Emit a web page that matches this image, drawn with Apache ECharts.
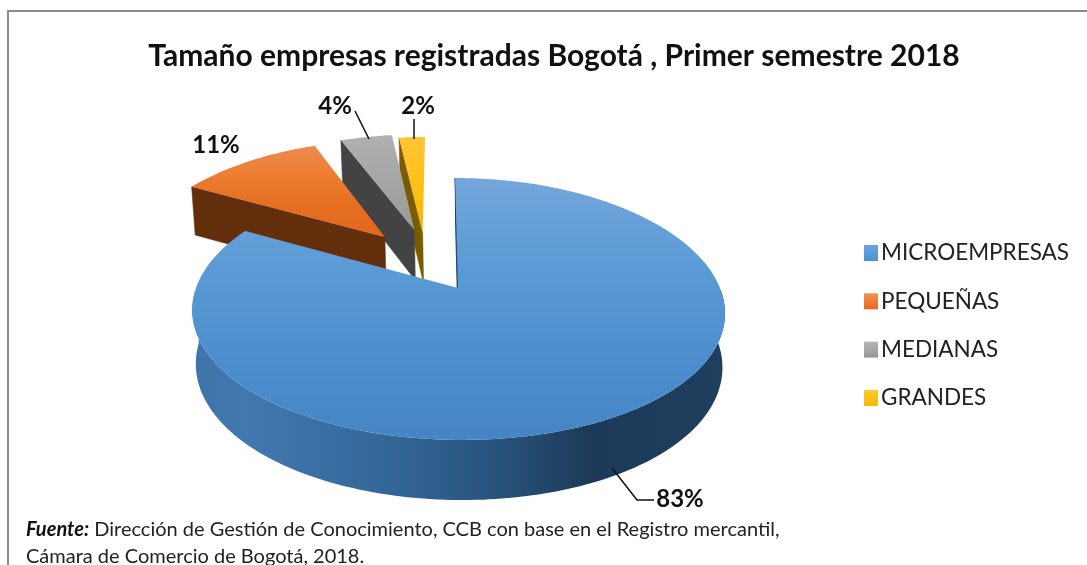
<!DOCTYPE html>
<html>
<head>
<meta charset="utf-8">
<style>
  html, body { margin: 0; padding: 0; background: #fff; }
  #main { width: 1087px; height: 565px; }
</style>
<script src="https://cdn.jsdelivr.net/npm/echarts@6/dist/echarts.min.js"></script>
</head>
<body>
<div id="main"></div>
<script>
var categories = ["MICROEMPRESAS", "PEQUEÑAS", "MEDIANAS", "GRANDES"];
var shares = [83, 11, 4, 2];
var titleText = "Tamaño empresas registradas Bogotá , Primer semestre 2018";
var sourceLead = "Fuente:";
var sourceLine1 = " Dirección de Gestión de Conocimiento, CCB con base en el Registro mercantil,";
var sourceLine2 = "Cámara de Comercio de Bogotá, 2018.";

// how far each slice is pulled out of the pie, in disc units (x, back)
var pull = [[0, 0], [-0.295, 0.427], [-0.175, 0.49], [-0.14, 0.46]];
// label position, px
var labelAt = [[680, 499], [216, 145], [335, 106], [418, 106]];

var FONT = "Lato, 'Open Sans', sans-serif";

// fake 3d: a disc seen in perspective, k makes the back part smaller
var k = 0.16;
var kx = 0.18;
var topPlane = { cx: 461.5, cy: 288, bx: 262, by: 127.6 };
var lowPlane = { cx: 462, cy: 341, bx: 259, by: 133.6 };

function project(plane, X, Z) {
  var dx = 1 + kx * Z;
  var d = 1 + k * Z;
  return [plane.cx + (plane.bx * X - 4 * Z - 3.5) / dx, plane.cy - plane.by * Z / d];
}

var total = shares.reduce(function (a, b) { return a + b; }, 0);

function sliceRange(i) {
  var before = 0;
  for (var j = 0; j < i; j++) before += shares[j];
  return [before / total * Math.PI * 2, (before + shares[i]) / total * Math.PI * 2];
}

function arcAngles(a0, a1) {
  var out = [];
  var steps = Math.max(2, Math.ceil((a1 - a0) / 0.02));
  for (var s = 0; s <= steps; s++) out.push(a0 + (a1 - a0) * s / steps);
  return out;
}

function onArc(plane, i, a) {
  return project(plane, Math.sin(a) + pull[i][0], Math.cos(a) + pull[i][1]);
}

function vgrad(stops) {
  return new echarts.graphic.LinearGradient(0, 0, 0, 1, stops.map(function (c, n) {
    return { offset: n / (stops.length - 1), color: c };
  }));
}
function hgrad(stops) {
  return new echarts.graphic.LinearGradient(0, 0, 1, 0, stops.map(function (s) {
    return { offset: s[0], color: s[1] };
  }));
}

var topFill = [
  vgrad(["#74a6dc", "#5b9bd5", "#4d8fcf", "#4585c4"]),
  vgrad(["#ec8a50", "#ed7d31", "#e56d1f", "#e2691c"]),
  vgrad(["#b0b0b0", "#a5a5a5", "#999999"]),
  vgrad(["#ffc534", "#fdc01a", "#f2b800"])
];
var wallFill = [
  hgrad([[0, "#3f74aa"], [0.1, "#4278b0"], [0.35, "#34689a"], [0.55, "#2a5580"], [0.75, "#1c3a58"], [1, "#1f3f5f"]]),
  "#622e0c",
  "#434343",
  "#7a5c00"
];
var cutFill = ["#1d4668", "#622e0c", "#434343", "#7a5c00"];
var legendFill = [
  vgrad(["#6ba5e0", "#4d8fd0"]),
  vgrad(["#f39256", "#e8691c"]),
  vgrad(["#b5b5b5", "#979797"]),
  vgrad(["#ffc933", "#efb900"])
];

function poly(points, fill, stroke, width) {
  return {
    type: "polygon",
    shape: { points: points },
    style: { fill: fill, stroke: stroke || null, lineWidth: width || 0 }
  };
}

function renderSlice(i) {
  return function () {
    var r = sliceRange(i);
    var angles = arcAngles(r[0], r[1]);
    var topArc = angles.map(function (a) { return onArc(topPlane, i, a); });
    var apexTop = project(topPlane, pull[i][0], pull[i][1]);
    var apexLow = project(lowPlane, pull[i][0], pull[i][1]);
    var kids = [];
    // only the side where the slice starts can be seen from the camera
    kids.push(poly([apexTop, topArc[0], onArc(lowPlane, i, r[0]), apexLow], cutFill[i], cutFill[i], i === 0 ? 1 : 0.5));
    // rim, front half only
    var front = angles.filter(function (a) { return Math.cos(a) + pull[i][1] < 0; });
    if (front.length > 1) {
      var upper = front.map(function (a) { return onArc(topPlane, i, a); });
      var lower = front.map(function (a) { return onArc(lowPlane, i, a); }).reverse();
      kids.push(poly(upper.concat(lower), wallFill[i]));
    }
    kids.push(poly([apexTop].concat(topArc), topFill[i]));
    return { type: "group", children: kids };
  };
}

// z makes yellow go first, the big slice is painted last
var pieSeries = categories.map(function (name, i) {
  return {
    name: name,
    type: "custom",
    coordinateSystem: "none",
    silent: true,
    z: 10 - i,
    itemStyle: { color: legendFill[i] },
    data: [shares[i]],
    renderItem: renderSlice(i)
  };
});

var labelItems = [];
shares.forEach(function (v, i) {
  labelItems.push({
    type: "text",
    z: 20,
    style: {
      x: labelAt[i][0], y: labelAt[i][1], text: v + "%",
      font: "bold 24px " + FONT, fill: "#111", textAlign: "center", textVerticalAlign: "middle"
    }
  });
});

var leaders = [
  [[612, 468], [637, 500], [654, 500]],
  [[369, 139], [355, 111]],
  [[414, 139], [414, 119]]
];
leaders.forEach(function (pts) {
  labelItems.push({
    type: "polyline",
    z: 20,
    shape: { points: pts },
    style: { stroke: "#111", lineWidth: 1.5, fill: null }
  });
});

var myChart = echarts.init(document.getElementById("main"), null, { renderer: "canvas" });
window.onresize = myChart.resize;
myChart.setOption({
  backgroundColor: "#fff",
  animation: false,
  title: {
    text: titleText,
    left: 549,
    top: 36,
    textAlign: "center",
    textStyle: { fontFamily: FONT, fontWeight: "bold", fontSize: 30, color: "#111" }
  },
  legend: {
    data: categories,
    orient: "vertical",
    left: 859,
    top: 236,
    itemWidth: 14,
    itemHeight: 16,
    itemGap: 24.3,
    icon: "rect",
    selectedMode: false,
    textStyle: { fontFamily: FONT, fontSize: 22.5, lineHeight: 24, color: "#222", padding: [0, 0, 0, -2] }
  },
  graphic: [
    {
      type: "polyline",
      shape: { points: [[8, 565], [8, 11], [1087, 11]] },
      style: { stroke: "#8c8c8c", lineWidth: 2, fill: null }
    },
    {
      type: "text",
      style: {
        x: 26, y: 530,
        text: "{b|" + sourceLead + "}" + sourceLine1,
        font: "20px " + FONT,
        fill: "#222",
        textVerticalAlign: "middle",
        rich: { b: { font: "italic bold 20px " + FONT, fill: "#111" } }
      }
    },
    {
      type: "text",
      style: {
        x: 26, y: 557, text: sourceLine2,
        font: "20px " + FONT, fill: "#222", textVerticalAlign: "middle"
      }
    }
  ].concat(labelItems),
  series: pieSeries
});
</script>
</body>
</html>
